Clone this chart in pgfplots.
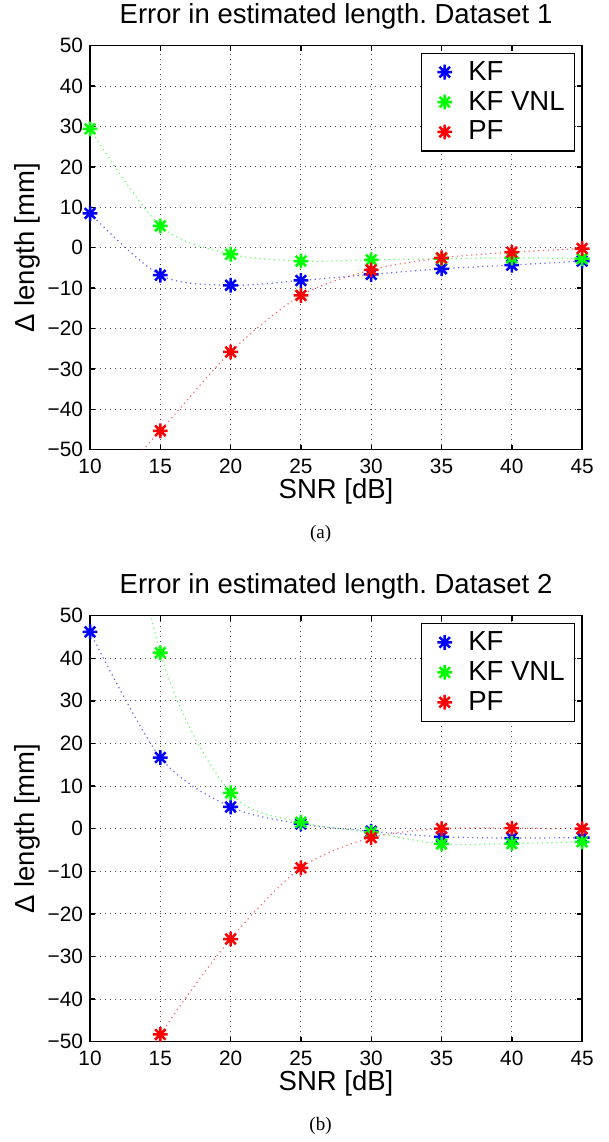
\documentclass[border=0pt]{standalone}
\usepackage{fontspec}
\setmainfont{Liberation Sans}
\newfontfamily\capfont{Liberation Serif}
\usepackage{pgfplots}
\usepackage{pgfplotstable}
\pgfplotsset{compat=1.18}
\frenchspacing

% matlab style '*' marker: 8 arms
\pgfdeclareplotmark{ast8}{%
  \pgfpathmoveto{\pgfqpoint{-\pgfplotmarksize}{0pt}}%
  \pgfpathlineto{\pgfqpoint{\pgfplotmarksize}{0pt}}%
  \pgfpathmoveto{\pgfqpoint{0pt}{-\pgfplotmarksize}}%
  \pgfpathlineto{\pgfqpoint{0pt}{\pgfplotmarksize}}%
  \pgfpathmoveto{\pgfqpoint{-.7071\pgfplotmarksize}{-.7071\pgfplotmarksize}}%
  \pgfpathlineto{\pgfqpoint{.7071\pgfplotmarksize}{.7071\pgfplotmarksize}}%
  \pgfpathmoveto{\pgfqpoint{-.7071\pgfplotmarksize}{.7071\pgfplotmarksize}}%
  \pgfpathlineto{\pgfqpoint{.7071\pgfplotmarksize}{-.7071\pgfplotmarksize}}%
  \pgfusepathqstroke}

\definecolor{mblue}{rgb}{0,0,1}
\definecolor{mgreen}{rgb}{0,1,0}
\definecolor{mred}{rgb}{1,0,0}

\pgfplotstableread{
x   KF    VNL   PF
10  8.5   29.4  -64
15  -6.8  5.4   -45.3
20  -9.3  -1.6  -25.8
25  -8.1  -3.3  -11.8
30  -6.6  -3.0  -5.5
35  -5.2  -2.7  -2.5
40  -4.3  -2.5  -1.1
45  -3.3  -2.7  -0.2
}\dataA

\pgfplotstableread{
x   KF    VNL   PF
10  46.2  120   -75
15  16.7  41.3  -48.3
20  5.1   8.4   -25.9
25  1.1   1.5   -9.2
30  -0.6  -0.9  -2.1
35  -1.9  -3.6  0.0
40  -2.2  -3.5  0.1
45  -2.1  -3.1  0.0
}\dataB

\pgfplotsset{
  snr/.style={
    scale only axis, width=246pt,
    xmin=10, xmax=45, ymin=-50, ymax=50,
    xtick={10,15,...,45},
    ytick={-50,-40,...,50},
    yticklabels={−50,−40,−30,−20,−10,0,10,20,30,40,50},
    /pgf/number format/assume math mode=true,
    grid=major,
    major grid style={black!70, line width=0.5pt, dash pattern=on 0.5pt off 2pt},
    axis line style={line width=0.7pt},
    every tick/.style={black, line width=0.7pt},
    major tick length=2.5pt,
    tick align=inside,
    ticklabel style={font=\fontsize{10.4}{12}\selectfont},
    xticklabel style={yshift=-1.2pt},
    xlabel={SNR [dB]}, ylabel={Δ length [mm]},
    label style={font=\fontsize{13.75}{16}\selectfont},
    xlabel style={at={(axis description cs:0.5,0)}, anchor=center, yshift=-21pt},
    ylabel style={at={(axis description cs:-0.1274,0.5)}, anchor=center},
    every axis title shift=0pt,
    title style={at={(0.5,1)}, anchor=center, yshift=14.5pt, font=\fontsize{13.75}{16}\selectfont},
    legend style={at={(0.986,0.983)}, anchor=north east, draw=black, line width=0.6pt,
      font=\fontsize{13.75}{16}\selectfont, inner xsep=3pt, inner ysep=2pt},
    legend cell align=left,
    legend image code/.code={\path (0pt,0pt) (18pt,0pt); \draw[##1] plot coordinates {(8.5pt,0pt)};},
    ln/.style={forget plot, smooth, line width=0.6pt, dash pattern=on 0.6pt off 1.8pt, draw opacity=0.6},
    mk/.style={only marks, mark=ast8, mark size=3.7pt, mark options={solid, line width=1.25pt},
      restrict y to domain=-50:50},
  }
}

\begin{document}
\begin{tikzpicture}
\begin{axis}[snr, name=top, anchor=north west, at={(0pt,0pt)}, height=202pt,
  title={Error in estimated length. Dataset 1},
  after end axis/.code={\node[font=\capfont\fontsize{9.5}{11}\selectfont] at (axis description cs:0.4685,0) [yshift=-42pt] {(a)};}]
\addplot[ln, mblue] table[x=x, y=KF] {\dataA};
\addplot[mk, mblue] table[x=x, y=KF] {\dataA};
\addlegendentry{KF}
\addplot[ln, mgreen] table[x=x, y=VNL] {\dataA};
\addplot[mk, mgreen] table[x=x, y=VNL] {\dataA};
\addlegendentry{KF VNL}
\addplot[ln, mred] table[x=x, y=PF] {\dataA};
\addplot[mk, mred] table[x=x, y=PF] {\dataA};
\addlegendentry{PF}
\end{axis}

\begin{axis}[snr, name=bot, anchor=north west, at={(0pt,-284.9pt)}, height=213pt,
  title={Error in estimated length. Dataset 2},
  after end axis/.code={\node[font=\capfont\fontsize{9.5}{11}\selectfont] at (axis description cs:0.4685,0) [yshift=-42.3pt] {(b)};}]
\addplot[ln, mblue] table[x=x, y=KF] {\dataB};
\addplot[mk, mblue] table[x=x, y=KF] {\dataB};
\addlegendentry{KF}
\addplot[ln, mgreen] table[x=x, y=VNL] {\dataB};
\addplot[mk, mgreen] table[x=x, y=VNL] {\dataB};
\addlegendentry{KF VNL}
\addplot[ln, mred] table[x=x, y=PF] {\dataB};
\addplot[mk, mred] table[x=x, y=PF] {\dataB};
\addlegendentry{PF}
\end{axis}
\pgfresetboundingbox
\path (-45pt,22.85pt) rectangle (259pt,-548.05pt);
\end{tikzpicture}
\end{document}
